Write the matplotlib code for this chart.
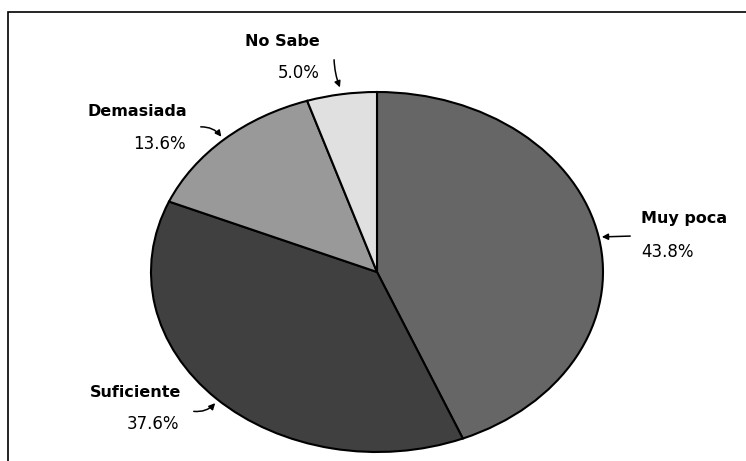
import matplotlib
matplotlib.use('Agg')
import matplotlib.pyplot as plt
from matplotlib.patches import Rectangle

# ── data ──────────────────────────────────────────────────────────────────────
categories = ['Muy poca', 'Suficiente', 'Demasiada', 'No Sabe']
values = [43.8, 37.6, 13.6, 5.0]
colors = ['#666666', '#404040', '#999999', '#e0e0e0']

W, H = 746, 461
fig = plt.figure(figsize=(W / 100, H / 100), dpi=100)

# outer frame (clipped at right and bottom, as in the reference)
fig.patches.append(Rectangle((8 / W, -0.05), 1.1, 1 - 12 / H + 0.05,
                             transform=fig.transFigure, fill=False,
                             edgecolor='black', lw=1.2, clip_on=False))

# elliptical pie: axes box sized to the ellipse
cx, cy, rx, ry = 377, 272, 226, 180
ax = fig.add_axes([(cx - rx) / W, 1 - (cy + ry) / H, 2 * rx / W, 2 * ry / H])
ax.pie(values, colors=colors, startangle=90, counterclock=False,
       wedgeprops=dict(edgecolor='black', linewidth=1.5))
ax.set_aspect('auto')
ax.set_xlim(-1, 1)
ax.set_ylim(-1, 1)
ax.axis('off')

# labels in pixel coordinates (x, y from top)
def px(x, y):
    return (x / W, 1 - y / H)

lab_kw = dict(fontsize=11.5, fontweight='bold', family='DejaVu Sans',
              va='center', transform=fig.transFigure)
pct_kw = dict(fontsize=12, family='DejaVu Sans', va='center',
              transform=fig.transFigure)

# (label x, label y, pct x, pct y, align, arrow tail, arrow head, curve)
placements = {
    'Muy poca':   (641, 218, 641, 252, 'left',  (633, 236), (599, 237), 0.0),
    'Suficiente': (181, 392, 179, 424, 'right', (191, 411), (217, 401), 0.3),
    'Demasiada':  (187, 111, 186, 144, 'right', (198, 127), (223, 139), -0.3),
    'No Sabe':    (320, 41, 320, 73, 'right', (334, 57), (341, 90), 0.1),
}

for cat, val in zip(categories, values):
    lx, ly, qx, qy, ha, tail, head, rad = placements[cat]
    fig.text(*px(lx, ly), cat, ha=ha, **lab_kw)
    fig.text(*px(qx, qy), f'{val:.1f}%', ha=ha, **pct_kw)
    fig.add_artist(matplotlib.patches.FancyArrowPatch(
        px(*tail), px(*head), transform=fig.transFigure,
        arrowstyle='-|>', mutation_scale=9, color='black', lw=1.1,
        connectionstyle=f'arc3,rad={rad}'))

fig.savefig('out.png', dpi=100)
